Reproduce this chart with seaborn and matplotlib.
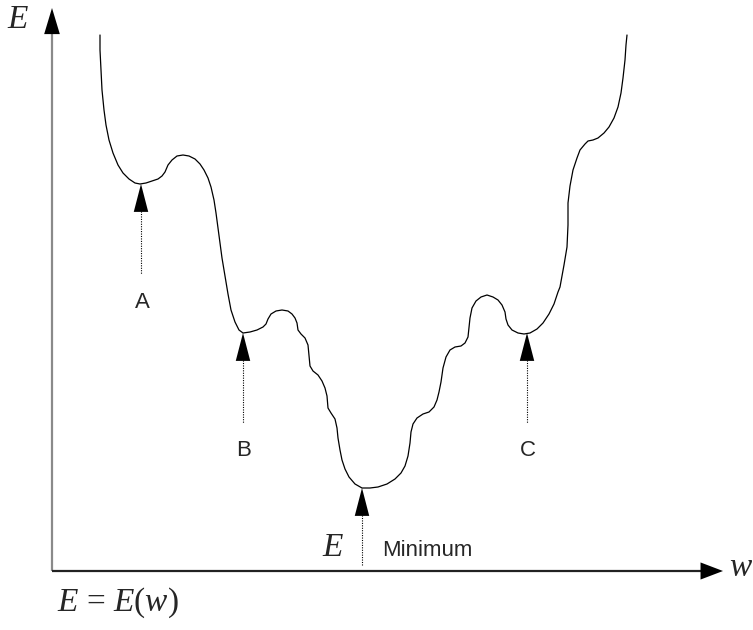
import numpy as np
import pandas as pd
import seaborn as sns
import matplotlib.pyplot as plt

# error surface E(w) (w, E in pixel-sized units, origin at axes corner)
curve_w = [48, 48, 49, 50, 52, 54, 57, 61, 66, 71, 77, 83, 88, 94, 100, 106, 110,
           113, 116, 120, 125, 131, 137, 143, 148, 152, 156, 159, 162, 164, 166,
           168, 170, 173, 176, 179, 183, 187, 191, 198, 205, 211, 214, 216, 219,
           224, 230, 236, 240, 243, 245, 246, 249, 253, 256, 257, 258, 261, 266,
           270, 273, 275, 276, 279, 283, 285, 286, 288, 290, 293, 297, 303, 310,
           318, 326, 335, 343, 349, 353, 356, 358, 359, 361, 365, 371, 377, 382,
           385, 387, 389, 391, 394, 398, 403, 409, 413, 416, 417, 418, 420, 424,
           429, 435, 441, 446, 450, 453, 454, 456, 460, 466, 472, 478, 485, 491,
           497, 502, 506, 508, 512, 515, 516, 516, 518, 521, 525, 528, 533, 536,
           541, 546, 552, 557, 562, 566, 569, 571, 573, 574, 575]
curve_E = [536, 521, 501, 481, 461, 446, 431, 418, 406, 398, 392, 388, 387, 388,
           390, 392, 395, 399, 406, 411, 415, 416, 415, 412, 407, 401, 393, 384,
           371, 358, 343, 328, 313, 295, 277, 261, 249, 241, 238, 239, 241, 244,
           247, 252, 257, 260, 261, 260, 257, 253, 248, 241, 237, 233, 226, 216,
           205, 200, 196, 190, 183, 175, 163, 158, 152, 143, 133, 121, 111, 102,
           94, 87, 83, 83, 84, 87, 92, 98, 105, 115, 128, 139, 147, 153, 157, 159,
           164, 171, 179, 189, 203, 214, 221, 224, 225, 228, 234, 243, 253, 263,
           270, 274, 276, 274, 271, 266, 259, 252, 246, 241, 238, 237, 238, 242,
           248, 257, 267, 279, 284, 306, 324, 346, 368, 385, 401, 413, 421, 427,
           430, 431, 433, 438, 444, 453, 464, 478, 493, 511, 526, 536]

# marked points on the curve
mark_w = [89, 191, 475]
mark_E = [387, 238, 238]
mark_labels = ['A', 'B', 'C']
min_w, min_E = 310, 83

df = pd.DataFrame({'w': curve_w, 'E': curve_E})

sns.set_style('white')
plt.rcParams['mathtext.fontset'] = 'custom'
plt.rcParams['mathtext.rm'] = 'Liberation Serif'
plt.rcParams['mathtext.it'] = 'Liberation Serif:italic'
serif = ['Liberation Serif', 'DejaVu Serif']
sans = ['Liberation Sans', 'DejaVu Sans']

fig = plt.figure(figsize=(7.53, 6.3), dpi=100)
ax = fig.add_axes([0, 0, 1, 1])
ax.set_xlim(-52, 701)
ax.set_ylim(-59, 571)
ax.axis('off')

sns.lineplot(data=df, x='w', y='E', sort=False, estimator=None,
             color='black', lw=0.9, ax=ax)


def head(tip, tail, depth, half):
    # filled triangular head, depth/half in pixels -> points
    side = np.hypot(depth, half) * 0.72
    ax.annotate('', xy=tip, xytext=tail,
                arrowprops=dict(arrowstyle=f'-|>,head_length={side:.2f},head_width={side * half / depth:.2f}',
                                color='black', lw=0, shrinkA=0, shrinkB=0,
                                mutation_scale=1))


# axes with arrow heads
ax.plot([0, 0], [0, 540], color='#8a8a8a', lw=1.6, solid_capstyle='butt')
ax.plot([0, 652], [0, 0], color='#222222', lw=1.6, solid_capstyle='butt')
head((0, 563), (0, 530), 25, 7.5)
head((671, 0), (640, 0), 21, 8)

ax.text(-34, 551, '$E$', family=serif, fontsize=24, ha='center', va='center')
ax.text(689, 3, '$w$', family=serif, fontsize=24, ha='center', va='center')
ax.text(5, -32, '$E$ = $E(w)$', family=serif, fontsize=24, ha='left', va='center')

# labelled local minima
for w, E, lab in zip(mark_w, mark_E, mark_labels):
    head((w, E), (w, E - 28), 27, 7)
    ax.plot([w, w], [E - 27, E - 90], color='black', lw=0.8, ls=(0, (1, 1.2)))
    ax.text(w + 1, E - 118, lab, family=sans, fontsize=16, ha='center', va='center')

head((min_w, min_E), (min_w, min_E - 28), 27, 7)
ax.plot([min_w, min_w], [min_E - 27, min_E - 78], color='black', lw=0.8, ls=(0, (1, 1.2)))
ax.text(min_w - 29, min_E - 60, '$E$', family=serif, fontsize=24, ha='center', va='center')
ax.text(min_w + 20, min_E - 62, 'Minimum', family=sans, fontsize=16, ha='left', va='center')

fig.savefig('out.png', dpi=100)
